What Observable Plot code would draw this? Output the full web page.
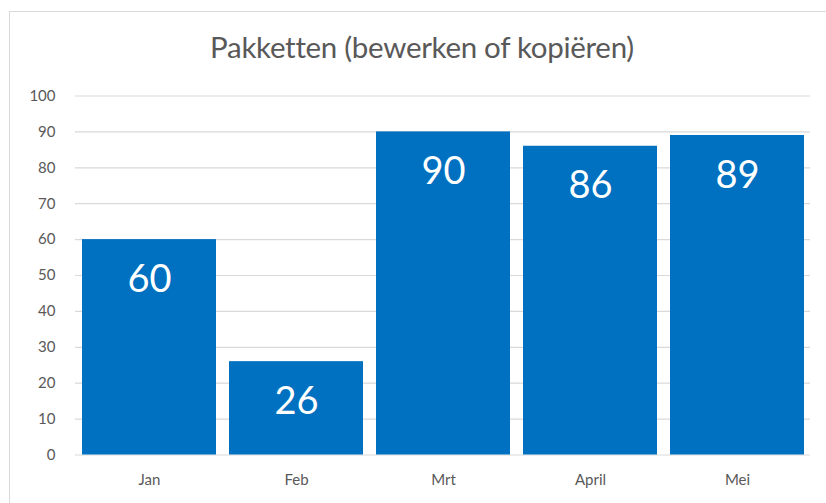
<!DOCTYPE html>
<html>
<head>
<meta charset="utf-8">
<script src="https://cdn.jsdelivr.net/npm/d3@7"></script>
<script src="https://cdn.jsdelivr.net/npm/@observablehq/plot@0.6"></script>
<style>
  html, body { margin: 0; padding: 0; background: #fff; }
  #wrap { position: relative; width: 826px; height: 503px; overflow: hidden; font-family: Lato, "Open Sans", sans-serif; }
  #frame { position: absolute; left: 9px; top: 11px; width: 900px; height: 600px; border-top: 1.5px solid #d9d9d9; border-left: 1.5px solid #d9d9d9; }
  #title { position: absolute; left: 0; top: 29px; width: 844px; text-align: center; font-size: 29.5px; color: #595959; letter-spacing: -0.3px; }
  #chart { position: absolute; left: 0; top: 0; }
</style>
</head>
<body>
<div id="wrap">
  <div id="frame"></div>
  <div id="chart"></div>
  <div id="title">Pakketten (bewerken of kopiëren)</div>
</div>
<script>
const months = ["Jan", "Feb", "Mrt", "April", "Mei"];
const values = [60, 26, 90, 86, 89];
const yTicks = [0, 10, 20, 30, 40, 50, 60, 70, 80, 90, 100];
const titleText = "Pakketten (bewerken of kopiëren)";

const data = months.map((m, i) => ({month: m, value: values[i]}));

const chart = Plot.plot({
  width: 826,
  height: 503,
  marginLeft: 75,
  marginRight: 16,
  marginTop: 95.5,
  marginBottom: 48.5,
  style: {fontFamily: "Lato, 'Open Sans', sans-serif", fontSize: "15px", color: "#595959", background: "transparent"},
  x: {domain: months, paddingInner: 0.09, paddingOuter: 0.04, label: null, tickSize: 0, tickPadding: 19},
  y: {domain: [0, 100], ticks: yTicks, label: null, tickSize: 0, tickPadding: 20},
  marks: [
    Plot.gridY(yTicks, {stroke: "#d9d9d9", strokeOpacity: 1, strokeWidth: 1.2}),
    Plot.barY(data, {x: "month", y: "value", fill: "#0070C0"}),
    Plot.text(data, {x: "month", y: "value", text: d => String(d.value), fill: "white", fontSize: 38, lineAnchor: "middle", dy: 40})
  ]
});
document.getElementById("chart").appendChild(chart);
document.getElementById("title").textContent = titleText;
</script>
</body>
</html>
